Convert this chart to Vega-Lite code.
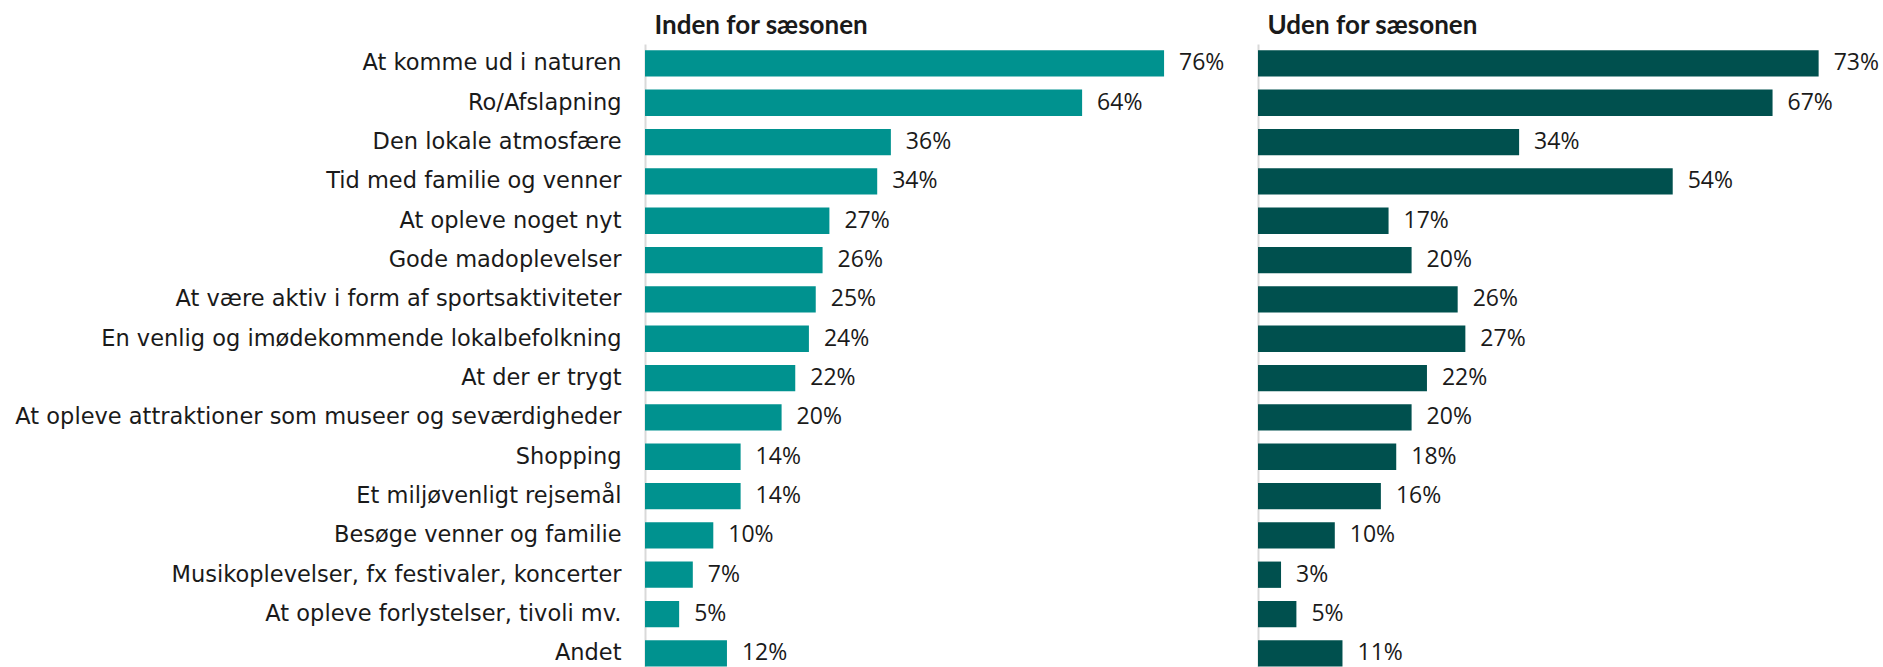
{
  "$schema": "https://vega.github.io/schema/vega-lite/v6.json",
  "padding": {"left": 0, "top": 12, "right": 0, "bottom": 0},
  "background": "white",
  "spacing": 13,
  "config": {"view": {"stroke": null}, "font": "DejaVu Sans", "axis": {"grid": false}},
  "datasets": {
    "d": [
      {"kategori": "At komme ud i naturen", "inden": 0.76, "uden": 0.73},
      {"kategori": "Ro/Afslapning", "inden": 0.64, "uden": 0.67},
      {"kategori": "Den lokale atmosfære", "inden": 0.36, "uden": 0.34},
      {"kategori": "Tid med familie og venner", "inden": 0.34, "uden": 0.54},
      {"kategori": "At opleve noget nyt", "inden": 0.27, "uden": 0.17},
      {"kategori": "Gode madoplevelser", "inden": 0.26, "uden": 0.20},
      {"kategori": "At være aktiv i form af sportsaktiviteter", "inden": 0.25, "uden": 0.26},
      {"kategori": "En venlig og imødekommende lokalbefolkning", "inden": 0.24, "uden": 0.27},
      {"kategori": "At der er trygt", "inden": 0.22, "uden": 0.22},
      {"kategori": "At opleve attraktioner som museer og seværdigheder", "inden": 0.20, "uden": 0.20},
      {"kategori": "Shopping", "inden": 0.14, "uden": 0.18},
      {"kategori": "Et miljøvenligt rejsemål", "inden": 0.14, "uden": 0.16},
      {"kategori": "Besøge venner og familie", "inden": 0.10, "uden": 0.10},
      {"kategori": "Musikoplevelser, fx festivaler, koncerter", "inden": 0.07, "uden": 0.03},
      {"kategori": "At opleve forlystelser, tivoli mv.", "inden": 0.05, "uden": 0.05},
      {"kategori": "Andet", "inden": 0.12, "uden": 0.11}
    ]
  },
  "data": {"name": "d"},
  "hconcat": [
    {
      "width": 600,
      "height": 624,
      "layer": [
        {
          "mark": {"type": "bar", "color": "#00928F"},
          "encoding": {
            "y": {
              "field": "kategori", "type": "nominal", "sort": null,
              "scale": {"paddingInner": 0.331, "paddingOuter": 0.0985, "align": 0.81, "round": false},
              "axis": {"title": null, "ticks": false, "labelPadding": 24, "labelFontSize": 22.5, "labelColor": "#1a1a1a", "labelFont": "DejaVu Sans", "domainColor": "#d9d9d9", "domainWidth": 2, "minExtent": 645, "maxExtent": 645, "labelLimit": 0}
            },
            "x": {
              "field": "inden", "type": "quantitative",
              "scale": {"domain": [0, 0.8785], "nice": false, "zero": true},
              "axis": {"orient": "top", "labels": false, "ticks": false, "domain": false, "grid": false, "title": "Inden for sæsonen", "titleFontSize": 26, "titleFontWeight": "bold", "titleFont": "Lato", "titleAlign": "left", "titleAnchor": "start", "titleX": 9, "titleY": -11, "titleBaseline": "alphabetic", "titleColor": "#1a1a1a"}
            }
          }
        },
        {
          "mark": {"type": "text", "align": "left", "baseline": "middle", "dx": 15, "fontSize": 23, "color": "#1a1a1a", "font": "Open Sans"},
          "encoding": {
            "y": {"field": "kategori", "type": "nominal", "sort": null},
            "x": {"field": "inden", "type": "quantitative"},
            "text": {"field": "inden", "type": "quantitative", "format": ".0%"}
          }
        }
      ]
    },
    {
      "width": 620,
      "height": 624,
      "layer": [
        {
          "mark": {"type": "bar", "color": "#00504E"},
          "encoding": {
            "y": {
              "field": "kategori", "type": "nominal", "sort": null,
              "scale": {"paddingInner": 0.331, "paddingOuter": 0.0985, "align": 0.81, "round": false},
              "axis": {"title": null, "ticks": false, "labels": false, "domainColor": "#d9d9d9", "domainWidth": 2, "minExtent": 0, "maxExtent": 0}
            },
            "x": {
              "field": "uden", "type": "quantitative",
              "scale": {"domain": [0, 0.8073], "nice": false, "zero": true},
              "axis": {"orient": "top", "labels": false, "ticks": false, "domain": false, "grid": false, "title": "Uden for sæsonen", "titleFontSize": 26, "titleFontWeight": "bold", "titleFont": "Lato", "titleAlign": "left", "titleAnchor": "start", "titleX": 9, "titleY": -11, "titleBaseline": "alphabetic", "titleColor": "#1a1a1a"}
            }
          }
        },
        {
          "mark": {"type": "text", "align": "left", "baseline": "middle", "dx": 15, "fontSize": 23, "color": "#1a1a1a", "font": "Open Sans"},
          "encoding": {
            "y": {"field": "kategori", "type": "nominal", "sort": null},
            "x": {"field": "uden", "type": "quantitative"},
            "text": {"field": "uden", "type": "quantitative", "format": ".0%"}
          }
        }
      ]
    }
  ]
}
